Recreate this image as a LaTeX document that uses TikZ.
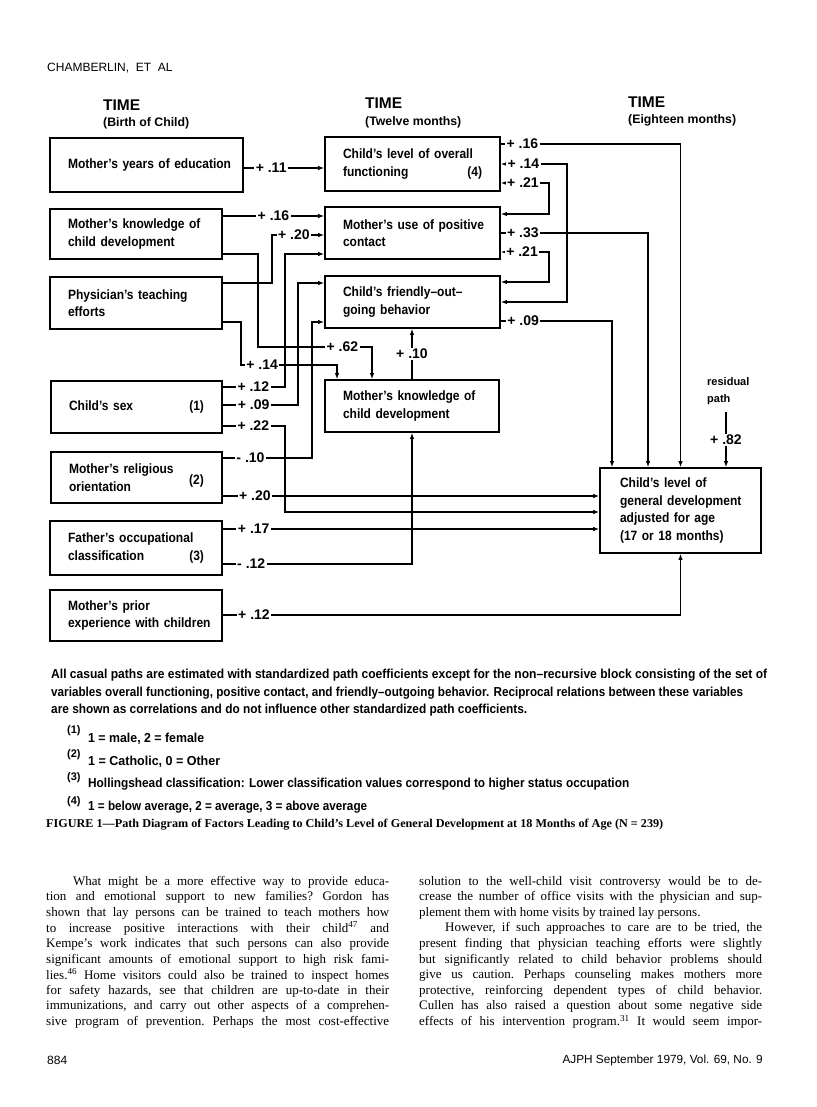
\documentclass[tikz,border=0pt]{standalone}
\usepackage{fontspec}
\setmainfont{Liberation Serif}
\setsansfont{Liberation Sans}
\newfontfamily\dfont[FakeStretch=0.89]{Liberation Sans}
\usepackage{graphicx}
\usetikzlibrary{arrows.meta}
\newcommand\jline[2]{\makebox[#1][s]{#2}}
\newcommand\rfill{\hskip 0pt plus 1fill\relax}
\tikzset{
  pbox/.style={draw, line width=1.7pt, inner xsep=18pt, inner ysep=0pt, align=left,
    font=\dfont\bfseries\fontsize{13.5}{17.5}\selectfont},
  conn/.style={line width=1.25pt},
  arr/.style={conn, -{Latex[length=6pt,width=4.5pt]}},
  darr/.style={conn, {Latex[length=6pt,width=4.5pt]}-{Latex[length=6pt,width=4.5pt]}},
  lbl/.style={fill=white, inner xsep=1.5pt, inner ysep=1pt, font=\sffamily\bfseries\fontsize{14}{15}\selectfont},
  hd/.style={anchor=west, inner sep=0pt, font=\sffamily\bfseries\fontsize{15.5}{18}\selectfont},
  hsub/.style={anchor=west, inner sep=0pt, font=\sffamily\bfseries\fontsize{12.3}{15}\selectfont},
  plain/.style={anchor=west, inner sep=0pt, font=\sffamily\fontsize{12}{14}\selectfont},
  body/.style={anchor=west, inner sep=0pt, font=\rmfamily\fontsize{13}{15}\selectfont\frenchspacing},
  note/.style={anchor=west, inner sep=0pt, font=\sffamily\bfseries\fontsize{13}{15}\selectfont},
  fnm/.style={anchor=west, inner sep=0pt, font=\sffamily\bfseries\fontsize{11}{12}\selectfont},
  capt/.style={anchor=west, inner sep=0pt, font=\rmfamily\bfseries\fontsize{12}{14}\selectfont},
}
\begin{document}
\begin{tikzpicture}[x=1pt,y=-1pt]
\path[use as bounding box, fill=white] (0,0) rectangle (816,1107);

% running head
\node[plain] (head) at (47,68) {CHAMBERLIN,\ \ ET\ \ AL};

% time headers
\node[hd] (t1) at (103,105) {TIME};
\node[hsub] (s1) at (103,123) {(Birth of Child)};
\node[hd] (t2) at (365,103) {TIME};
\node[hsub] (s2) at (365,122) {(Twelve months)};
\node[hd] (t3) at (628,102) {TIME};
\node[hsub] (s3) at (628,120) {(Eighteen months)};

% left column boxes
\node[pbox, minimum width=193pt, minimum height=54pt, text width=157pt] (L1) at (146.5,165) {\mbox{Mother’s years of education}};
\node[pbox, minimum width=172pt, minimum height=50pt, text width=136pt] (L2) at (136,234) {\mbox{Mother’s knowledge of}\\\mbox{child development}};
\node[pbox, minimum width=172pt, minimum height=52pt, text width=136pt] (L3) at (136,303) {\mbox{Physician’s teaching}\\efforts};
\node[pbox, minimum width=171pt, minimum height=52pt, text width=135pt] (L4) at (136.5,407) {Child’s sex\rfill(1)};
\node[pbox, minimum width=171pt, minimum height=51pt, text width=135pt] (L5) at (136.5,477.5) {\mbox{Mother’s religious}\\orientation};
\node[anchor=east, inner sep=0pt, font=\dfont\bfseries\fontsize{13.5}{15}\selectfont] (L5n) at (204,481) {(2)};
\node[pbox, minimum width=172pt, minimum height=54pt, text width=136pt] (L6) at (136,548) {\mbox{Father’s occupational}\\classification\rfill(3)};
\node[pbox, minimum width=172pt, minimum height=51pt, text width=136pt] (L7) at (136,615.5) {\mbox{Mother’s prior}\\\mbox{experience with children}};

% middle column boxes
\node[pbox, minimum width=175pt, minimum height=54pt, text width=139pt] (M1) at (412.5,164) {\mbox{Child’s level of overall}\\functioning\rfill(4)};
\node[pbox, minimum width=175pt, minimum height=52pt, text width=139pt] (M2) at (412.5,233) {\mbox{Mother’s use of positive}\\contact};
\node[pbox, minimum width=175pt, minimum height=52pt, text width=139pt] (M3) at (412.5,302) {\mbox{Child’s friendly–out–}\\\mbox{going behavior}};
\node[pbox, minimum width=174pt, minimum height=52pt, text width=138pt] (M4) at (412,406) {\mbox{Mother’s knowledge of}\\\mbox{child development}};

% target box
\node[pbox, inner xsep=20pt, minimum width=161pt, minimum height=85pt, text width=121pt] (T) at (680.5,510.5) {\mbox{Child’s level of}\\\mbox{general development}\\\mbox{adjusted for age}\\\mbox{(17 or 18 months)}};

% residual path
\node[anchor=north west, align=left, inner sep=0pt, font=\sffamily\bfseries\fontsize{11}{17}\selectfont] (res) at (707,377) {residual\\path};
\coordinate (rp) at (726,412);
\draw[arr] (rp) -- node[lbl]{+ .82} (rp |- T.north);

% paths from birth variables
\draw[arr] (L1.east |- 0,168) -- node[lbl,pos=0.34]{+ .11} (M1.west |- 0,168);
\draw[arr] (L2.east |- 0,216) -- node[lbl,pos=0.5]{+ .16} (M2.west |- 0,216);
\draw[arr] (L3.east |- 0,283) -| (272,235) -- node[lbl,pos=0.42]{+ .20} (M2.west |- 0,235);
\draw[arr] (L4.east |- 0,387) -- node[lbl,pos=0.49]{+ .12} (285,387) |- (M2.west |- 0,254);
\draw[arr] (L4.east |- 0,405) -- node[lbl,pos=0.41]{+ .09} (298,405) |- (M3.west |- 0,283);
\draw[arr] (L4.east |- 0,426) -- node[lbl,pos=0.49]{+ .22} (285,426) |- (T.west |- 0,512);
\draw[arr] (L2.east |- 0,254) -| (258,347) -- node[lbl,pos=0.74]{+ .62} (372,347) -- (372,0 |- M4.north);
\draw[arr] (L3.east |- 0,322) -| (241,365) -- node[lbl,pos=0.22]{+ .14} (337,365) -- (337,0 |- M4.north);
\draw[arr] (M4.north) -- node[lbl]{+ .10} (M4.north |- M3.south);
\draw[arr] (L5.east |- 0,458) -- node[lbl,pos=0.31]{- .10} (312,458) |- (M3.west |- 0,322);
\draw[arr] (L5.east |- 0,496) -- node[lbl,pos=0.085]{+ .20} (T.west |- 0,496);
\draw[arr] (L6.east |- 0,529) -- node[lbl,pos=0.082]{+ .17} (T.west |- 0,529);
\draw[arr] (L6.east |- 0,564) -- node[lbl,pos=0.15]{- .12} (M4.south |- 0,564) -- (M4.south);
\draw[arr] (L7.east |- 0,615) -- node[lbl,pos=0.068]{+ .12} (T.south |- 0,615) -- (T.south);

% paths from twelve-month variables
\draw[arr] (M1.east |- 0,144) -- node[lbl,pos=0.12]{+ .16} (T.north |- 0,144) -- (T.north);
\draw[arr] (M2.east |- 0,233) -- node[lbl,pos=0.15]{+ .33} (648,233) -- (648,0 |- T.north);
\draw[arr] (M3.east |- 0,321) -- node[lbl,pos=0.2]{+ .09} (612,321) -- (612,0 |- T.north);

% correlations
\draw[darr] (M1.east |- 0,164) -- node[lbl,pos=0.34]{+ .14} (567,164) |- (M3.east |- 0,302);
\draw[darr] (M1.east |- 0,183) -- node[lbl,pos=0.46]{+ .21} (549,183) |- (M2.east |- 0,214);
\draw[darr] (M2.east |- 0,252) -- node[lbl,pos=0.44]{+ .21} (549,252) |- (M3.east |- 0,282);

% note
\node[note] (n1) at (51,675) {\resizebox{716pt}{\height}{All casual paths are estimated with standardized path coefficients except for the non–recursive block consisting of the set of}};
\node[note] (n2) at (51,693) {\resizebox{692pt}{\height}{variables overall functioning, positive contact, and friendly–outgoing behavior. Reciprocal relations between these variables}};
\node[note] (n3) at (51,710.5) {\resizebox{476pt}{\height}{are shown as correlations and do not influence other standardized path coefficients.}};

\node[fnm] (f1m) at (67,731) {(1)};
\node[note] (f1) at (88,738.5) {\resizebox{116pt}{\height}{1 = male, 2 = female}};
\node[fnm] (f2m) at (67,755) {(2)};
\node[note] (f2) at (88,761.5) {\resizebox{132pt}{\height}{1 = Catholic, 0 = Other}};
\node[fnm] (f3m) at (67,778) {(3)};
\node[note] (f3) at (88,784.5) {\resizebox{541pt}{\height}{Hollingshead classification: Lower classification values correspond to higher status occupation}};
\node[fnm] (f4m) at (67,801.5) {(4)};
\node[note] (f4) at (88,807.5) {\resizebox{279pt}{\height}{1 = below average, 2 = average, 3 = above average}};

% caption
\node[capt] (fig) at (46,825) {\resizebox{617pt}{\height}{FIGURE 1—Path Diagram of Factors Leading to Child’s Level of General Development at 18 Months of Age (N = 239)}};

% body text, left column
\node[body] (a1) at (73,882) {\jline{316pt}{What might be a more effective way to provide educa-}};
\node[body] (a2) at (46,897.5) {\jline{343pt}{tion and emotional support to new families? Gordon has}};
\node[body] (a3) at (46,913) {\jline{343pt}{shown that lay persons can be trained to teach mothers how}};
\node[body] (a4) at (46,928.5) {\jline{343pt}{to increase positive interactions with their child\textsuperscript{47} and}};
\node[body] (a5) at (46,944) {\jline{343pt}{Kempe’s work indicates that such persons can also provide}};
\node[body] (a6) at (46,960) {\jline{343pt}{significant amounts of emotional support to high risk fami-}};
\node[body] (a7) at (46,975.5) {\jline{343pt}{lies.\textsuperscript{46} Home visitors could also be trained to inspect homes}};
\node[body] (a8) at (46,991) {\jline{343pt}{for safety hazards, see that children are up-to-date in their}};
\node[body] (a9) at (46,1006.5) {\jline{343pt}{immunizations, and carry out other aspects of a comprehen-}};
\node[body] (a10) at (46,1022) {\jline{343pt}{sive program of prevention. Perhaps the most cost-effective}};

% body text, right column
\node[body] (r1) at (419,882) {\jline{343pt}{solution to the well-child visit controversy would be to de-}};
\node[body] (r2) at (419,897.5) {\jline{343pt}{crease the number of office visits with the physician and sup-}};
\node[body] (r3) at (419,913) {plement them with home visits by trained lay persons.};
\node[body] (r4) at (445,928.5) {\jline{317pt}{However, if such approaches to care are to be tried, the}};
\node[body] (r5) at (419,944) {\jline{343pt}{present finding that physician teaching efforts were slightly}};
\node[body] (r6) at (419,960) {\jline{343pt}{but significantly related to child behavior problems should}};
\node[body] (r7) at (419,975.5) {\jline{343pt}{give us caution. Perhaps counseling makes mothers more}};
\node[body] (r8) at (419,991) {\jline{343pt}{protective, reinforcing dependent types of child behavior.}};
\node[body] (r9) at (419,1006.5) {\jline{343pt}{Cullen has also raised a question about some negative side}};
\node[body] (r10) at (419,1022) {\jline{343pt}{effects of his intervention program.\textsuperscript{31} It would seem impor-}};

% footer
\node[plain] (pg) at (47,1060) {884};
\node[plain, anchor=east, font=\sffamily\fontsize{11.8}{14}\selectfont] (jr) at (763,1060) {AJPH September 1979, Vol. 69, No. 9};
\end{tikzpicture}
\end{document}
